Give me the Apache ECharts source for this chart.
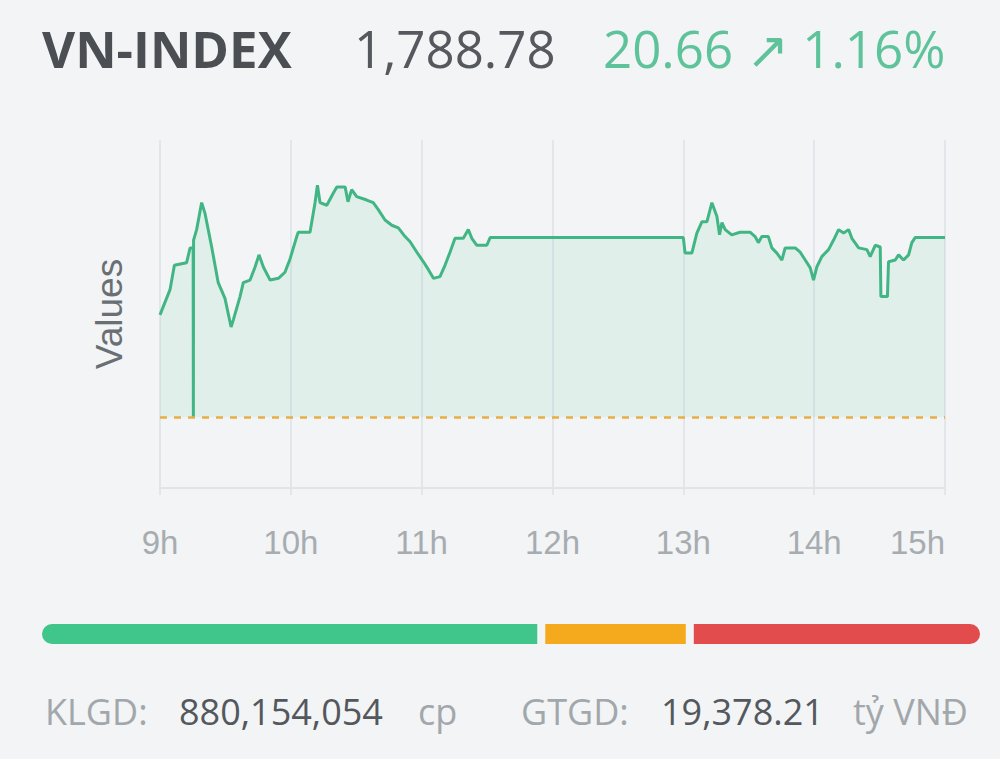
<!DOCTYPE html>
<html><head><meta charset="utf-8">
<script src="https://cdn.jsdelivr.net/npm/echarts@6/dist/echarts.min.js"></script>
<style>html,body{margin:0;padding:0;background:#f2f4f5;} #c{width:1000px;height:759px;}</style>
</head><body><div id="c"></div>
<script>
// ---- data ----
const indexName = 'VN-INDEX';
const closeValue = 1788.78;
const changeValue = 20.66;
const changePct = 1.16;
const refValue = 1768.12;
const axisMinutes = [540, 900];           // 9h .. 15h, minutes since midnight
const times = [540, 544.6, 546.6, 552.2, 553.8, 555.2, 555.3, 555.4, 556.8, 559.1, 560.6, 563.7, 566.7, 569.8, 572.6, 573.6, 576.7, 578.2, 581.3, 583.6, 585.4, 587.4, 590.5, 594.3, 597.3, 599.6, 602.7, 603.4, 608.8, 611.1, 612.2, 613.4, 616.5, 619.5, 621.1, 624.9, 626.2, 627.9, 630.2, 634.8, 637.8, 640.1, 643.2, 646.3, 649.3, 652.4, 654.7, 657.8, 660.8, 663.1, 665.4, 668.4, 670.7, 673.0, 675.3, 679.1, 681.4, 683.0, 685.3, 689.9, 691.4, 780.0, 780.8, 783.9, 786.2, 788.5, 790.8, 793.1, 795.4, 796.6, 797.7, 799.2, 802.2, 806.0, 810.6, 812.9, 814.4, 816.0, 819.0, 820.6, 822.9, 825.2, 826.7, 831.3, 833.6, 835.9, 838.2, 839.7, 841.2, 843.5, 846.6, 848.9, 851.2, 853.5, 855.8, 857.3, 860.4, 864.2, 865.7, 868.0, 870.3, 870.6, 873.6, 874.1, 877.2, 878.7, 881.0, 883.3, 884.8, 886.3, 900];
const values = [1779.9, 1782.8, 1785.6, 1785.9, 1787.6, 1787.6, 1768.1, 1788.5, 1789.7, 1792.8, 1791.6, 1787.7, 1783.6, 1781.8, 1778.5, 1779.3, 1782.0, 1783.6, 1783.9, 1785.4, 1786.8, 1785.4, 1783.9, 1784.1, 1784.8, 1786.3, 1788.9, 1789.4, 1789.4, 1792.8, 1794.8, 1792.8, 1792.5, 1793.9, 1794.6, 1794.6, 1792.9, 1794.3, 1793.5, 1793.1, 1792.8, 1792.0, 1790.8, 1790.2, 1789.9, 1788.9, 1788.3, 1787.1, 1786.0, 1785.1, 1784.1, 1784.3, 1785.6, 1787.1, 1788.7, 1788.7, 1789.7, 1788.7, 1787.9, 1787.9, 1788.78, 1788.78, 1787.0, 1787.0, 1789.3, 1790.6, 1790.6, 1792.8, 1791.2, 1789.1, 1790.5, 1789.7, 1789.1, 1789.4, 1789.4, 1788.9, 1788.2, 1788.9, 1788.9, 1787.6, 1787.0, 1786.2, 1787.6, 1787.6, 1787.1, 1786.2, 1785.3, 1783.9, 1785.4, 1786.6, 1787.4, 1788.5, 1789.7, 1789.3, 1789.7, 1788.7, 1787.6, 1787.4, 1786.6, 1787.9, 1787.7, 1782.0, 1782.0, 1786.0, 1786.2, 1786.8, 1786.2, 1786.8, 1788.2, 1788.78, 1788.78];
const breadthNames = ['Tăng', 'Không đổi', 'Giảm'];
const breadthValues = [53.2, 15.7, 31.1];
const volumeShares = 880154054;
const turnoverBn = 19378.21;

// ---- styles ----
const lineColor = '#41b684';
const upColor = '#5ec39b';
const breadthColors = ['#40c68b', '#f4aa1c', '#e34c4c'];
const bg = '#f2f4f5';
const fmt = (v, d) => v.toLocaleString('en-US', {minimumFractionDigits: d, maximumFractionDigits: d});

const chart = echarts.init(document.getElementById('c'), null, {renderer: 'svg'});
const headFont = "'Open Sans', 'DejaVu Sans', sans-serif";
const axisFont = "'Liberation Sans', Arial, sans-serif";

const bottomItem = (text, left, dark) => ({
  text, left, top: 684,
  textStyle: {fontFamily: headFont, fontSize: 36, fontWeight: 'normal', color: dark ? '#54585d' : '#a2a7ab', lineHeight: 44}
});

const option = {
  backgroundColor: bg,
  animation: false,
  title: [
    {text: indexName, left: 37, top: 13, textStyle: {fontFamily: headFont, fontSize: 51, fontWeight: 'bold', color: '#4b4f54', lineHeight: 60}},
    {text: fmt(closeValue, 2), left: 349, top: 13, textStyle: {fontFamily: headFont, fontSize: 51, fontWeight: 'normal', color: '#55595e', lineHeight: 60}},
    {text: fmt(changeValue, 2) + ' ↗ ' + fmt(changePct, 2) + '%', left: 598, top: 13, textStyle: {fontFamily: headFont, fontSize: 51, fontWeight: 'normal', color: upColor, lineHeight: 60}},
    bottomItem('KLGD:', 40, false),
    bottomItem(fmt(volumeShares, 0), 174, true),
    bottomItem('cp', 413, false),
    bottomItem('GTGD:', 516, false),
    bottomItem(fmt(turnoverBn, 2), 656, true),
    bottomItem('tỷ VNĐ', 848, false)
  ],
  grid: [
    {left: 160, right: 55, top: 140, bottom: 271, containLabel: false},
    {left: 38, right: 16, top: 620, height: 28, containLabel: false}
  ],
  xAxis: [
    {
      type: 'value', gridIndex: 0, min: axisMinutes[0], max: axisMinutes[1], interval: 60,
      axisLine: {show: true, lineStyle: {color: '#e1e5e8', width: 2}},
      axisTick: {show: true, length: 7, lineStyle: {color: '#dfe3e6', width: 1.5}},
      splitLine: {show: true, lineStyle: {color: '#dde1e4', width: 1.5}},
      axisLabel: {
        formatter: v => (v / 60) + 'h', margin: 38, fontSize: 33, color: '#a7acb0', fontFamily: axisFont,
        alignMaxLabel: 'right'
      }
    },
    {type: 'value', gridIndex: 1, min: 0, max: breadthValues.reduce((a, b) => a + b, 0), show: false}
  ],
  yAxis: [
    {
      type: 'value', gridIndex: 0, min: 1760, max: 1800,
      axisLine: {show: false}, axisTick: {show: false}, axisLabel: {show: false}, splitLine: {show: false},
      name: 'Values', nameLocation: 'middle', nameGap: 32, nameRotate: 90,
      nameTextStyle: {fontSize: 37, color: '#6a6f74', fontFamily: axisFont}
    },
    {type: 'category', gridIndex: 1, data: ['breadth'], show: false}
  ],
  series: [
    {
      type: 'line', xAxisIndex: 0, yAxisIndex: 0,
      data: times.map((t, i) => [t, values[i]]),
      showSymbol: false, symbol: 'none',
      lineStyle: {color: lineColor, width: 3},
      areaStyle: {color: 'rgba(60, 192, 140, 0.13)', origin: refValue},
      markLine: {
        silent: true, symbol: 'none', label: {show: false},
        lineStyle: {color: '#e9ad45', width: 2.5, type: [7, 7], opacity: 1},
        data: [{yAxis: refValue}]
      },
      z: 3
    },
    ...breadthNames.map((n, i) => ({
      type: 'bar', name: n, xAxisIndex: 1, yAxisIndex: 1, stack: 'breadth',
      data: [breadthValues[i]], barWidth: 28,
      itemStyle: {
        color: breadthColors[i], borderColor: bg, borderWidth: 4,
        borderRadius: i === 0 ? [14, 0, 0, 14] : (i === breadthNames.length - 1 ? [0, 14, 14, 0] : 0)
      }
    }))
  ]
};
chart.setOption(option);
</script>
</body></html>
